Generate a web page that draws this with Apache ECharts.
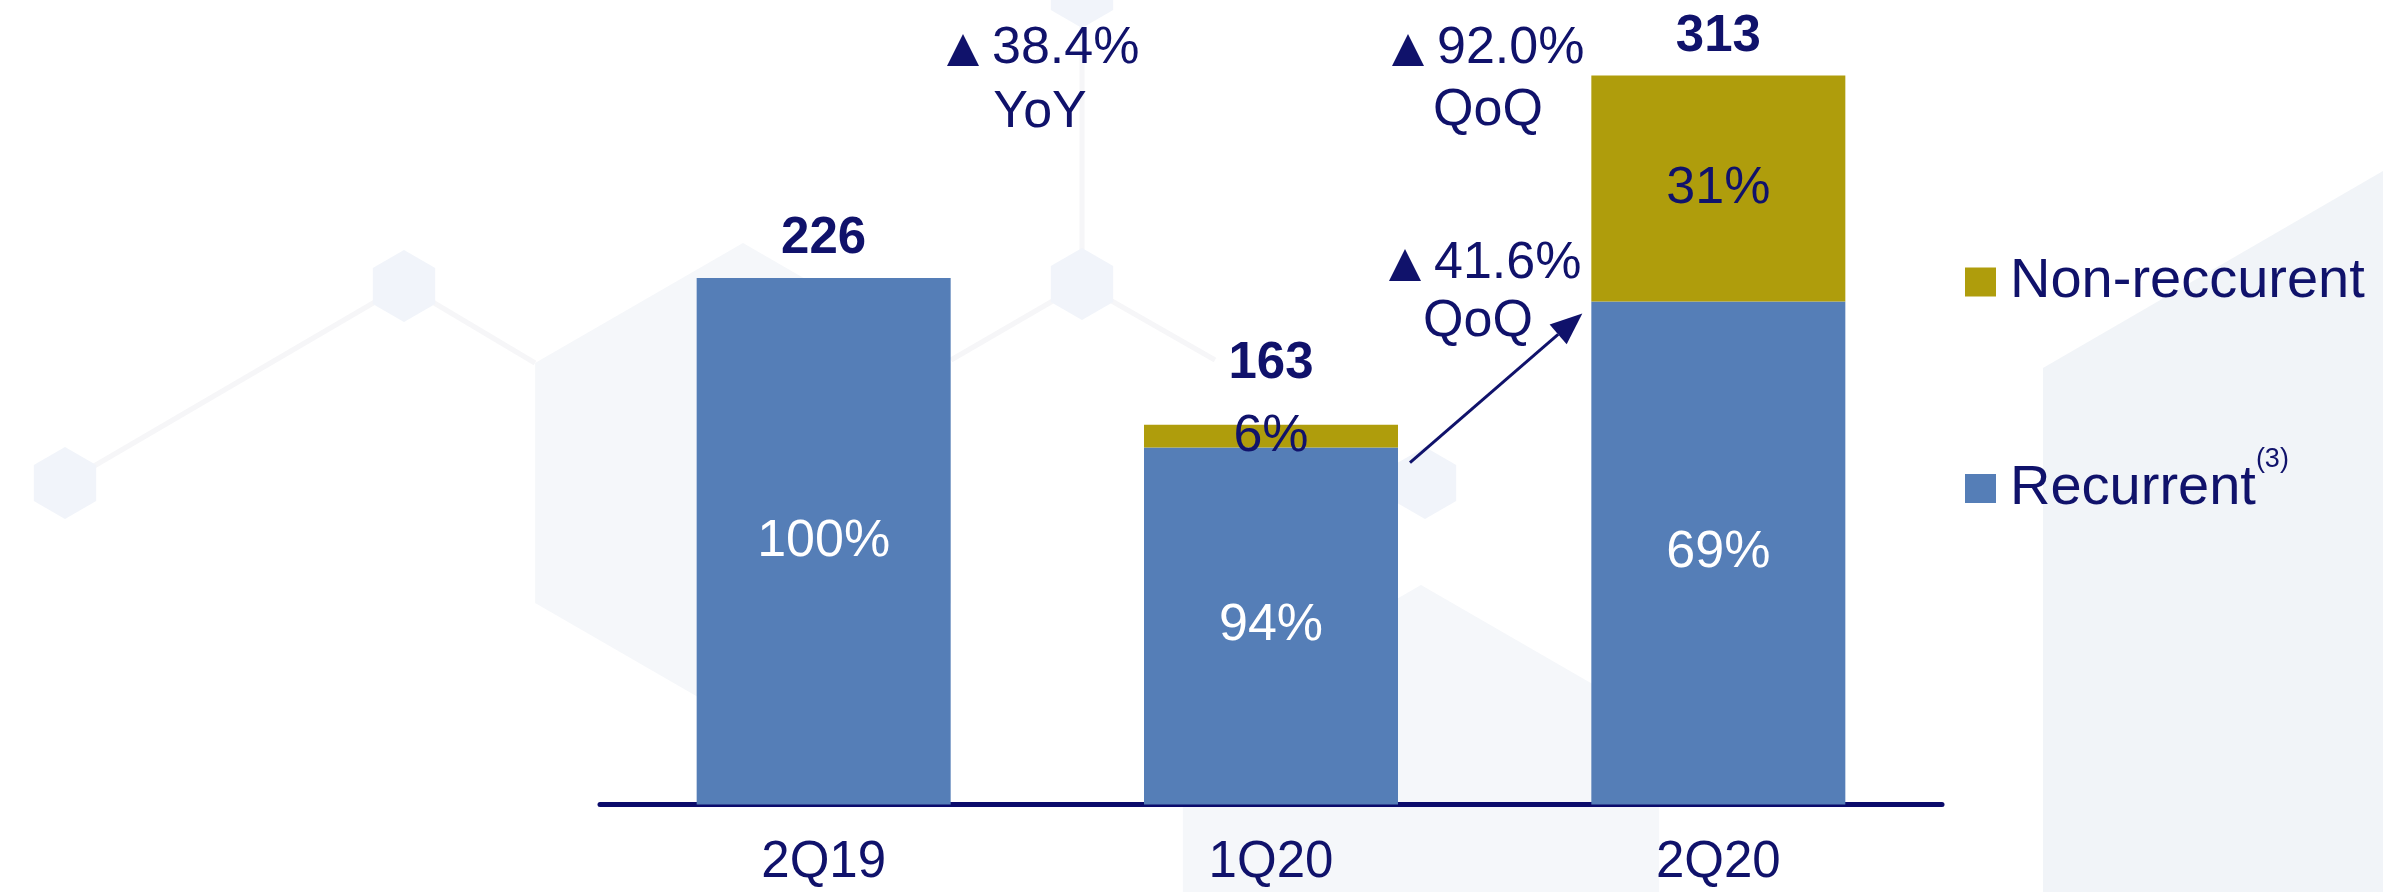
<!DOCTYPE html>
<html>
<head>
<meta charset="utf-8">
<title>Recurrent vs non-recurrent</title>
<script src="https://cdn.jsdelivr.net/npm/echarts@6/dist/echarts.min.js"></script>
<style>
  html, body { margin: 0; padding: 0; background: #ffffff; }
  #chart { width: 2383px; height: 892px; }
</style>
</head>
<body>
<div id="chart"></div>
<script>
// Quarterly totals and the share (%) of each component
const categories = ['2Q19', '1Q20', '2Q20'];
const totals = [226, 163, 313];
const recurrentShare = [100, 94, 69];
const nonRecurrentShare = [0, 6, 31];

// Growth call-outs
const growthValues = ['38.4%', '92.0%', '41.6%'];
const growthBasis = ['YoY', 'QoQ', 'QoQ'];

const NAVY = '#10126b';
const BLUE = '#557eb7';
const OLIVE = '#af9d0c';
const FONT = '"Liberation Sans", Arial, sans-serif';

const recurrentValues = totals.map((t, i) => t * recurrentShare[i] / 100);
const nonRecurrentValues = totals.map((t, i) => t * nonRecurrentShare[i] / 100);

// distance of each total label above its bar
const totalLabelGap = [14, 36, 13];

const chart = echarts.init(document.getElementById('chart'), null, { renderer: 'canvas' });

// faint hexagon decoration in the background
function hexPoints(cx, cy, r) {
  const pts = [];
  for (let k = 0; k < 6; k++) {
    const a = Math.PI / 180 * (60 * k - 90);
    pts.push([cx + r * Math.cos(a), cy + r * Math.sin(a)]);
  }
  return pts;
}
const panelFill = '#f1f4f8';
const hexFill = '#f5f7fa';
const nodeFill = '#f1f4fa';
const linkColor = '#f6f6f8';
const background = [
  { type: 'polygon', z: -5, shape: { points: [[2043, 368], [2383, 171], [2383, 892], [2043, 892]] }, style: { fill: panelFill } },
  { type: 'polygon', z: -5, shape: { points: hexPoints(743, 483, 240) }, style: { fill: hexFill } },
  { type: 'polygon', z: -5, shape: { points: hexPoints(1421, 860, 275) }, style: { fill: hexFill } },
  { type: 'line', z: -4, shape: { x1: 65, y1: 483, x2: 404, y2: 285 }, style: { stroke: linkColor, lineWidth: 5 } },
  { type: 'line', z: -4, shape: { x1: 404, y1: 285, x2: 535, y2: 363 }, style: { stroke: linkColor, lineWidth: 5 } },
  { type: 'line', z: -4, shape: { x1: 1082, y1: 0, x2: 1082, y2: 284 }, style: { stroke: linkColor, lineWidth: 5 } },
  { type: 'line', z: -4, shape: { x1: 1082, y1: 284, x2: 951, y2: 360 }, style: { stroke: linkColor, lineWidth: 5 } },
  { type: 'line', z: -4, shape: { x1: 1082, y1: 284, x2: 1215, y2: 360 }, style: { stroke: linkColor, lineWidth: 5 } },
  { type: 'polygon', z: -3, shape: { points: hexPoints(404, 286, 36) }, style: { fill: nodeFill } },
  { type: 'polygon', z: -3, shape: { points: hexPoints(65, 483, 36) }, style: { fill: nodeFill } },
  { type: 'polygon', z: -3, shape: { points: hexPoints(1082, 284, 36) }, style: { fill: nodeFill } },
  { type: 'polygon', z: -3, shape: { points: hexPoints(1082, -8, 36) }, style: { fill: nodeFill } },
  { type: 'polygon', z: -3, shape: { points: hexPoints(1425, 483, 36) }, style: { fill: nodeFill } }
];

// growth call-outs: up-triangle, value, and basis line below
// [triangle left, value centre y, basis centre x, basis centre y]
const calloutPos = [[947, 49, 1040, 113], [1392, 49, 1488, 111], [1389, 264, 1478, 322]];
const callouts = [];
growthValues.forEach((v, i) => {
  const p = calloutPos[i];
  const tl = p[0], cy = p[1];
  callouts.push({
    type: 'polygon', z: 20,
    shape: { points: [[tl, cy + 17], [tl + 32, cy + 17], [tl + 16, cy - 15]] },
    style: { fill: NAVY }
  });
  callouts.push({
    type: 'text', z: 20, x: tl + 45, y: cy,
    style: { text: v, fill: NAVY, font: '52px ' + FONT, textAlign: 'left', textVerticalAlign: 'middle' }
  });
  callouts.push({
    type: 'text', z: 20, x: p[2], y: p[3],
    style: { text: growthBasis[i], fill: NAVY, font: '52px ' + FONT, textAlign: 'center', textVerticalAlign: 'middle' }
  });
});

const option = {
  backgroundColor: '#ffffff',
  animation: false,
  grid: { left: 600, right: 441, top: 12.5, bottom: 87.5, containLabel: false },
  legend: {
    data: ['Non-reccurent', 'Recurrent'],
    orient: 'vertical',
    left: 1960,
    top: 247,
    icon: 'rect',
    itemWidth: 31,
    itemHeight: 29,
    itemGap: 134,
    selectedMode: false,
    formatter: name => name === 'Recurrent' ? 'Recurrent{sup|(3)}' : name,
    textStyle: {
      color: NAVY, fontSize: 56, fontFamily: FONT, lineHeight: 60, padding: [0, 0, 0, 9],
      rich: { sup: { fontSize: 27, color: NAVY, fontFamily: FONT, padding: [0, 0, 58, 0] } }
    }
  },
  xAxis: {
    type: 'category',
    data: categories,
    axisLine: { show: true, lineStyle: { color: '#0b0b6b', width: 5 } },
    axisTick: { show: false },
    axisLabel: { color: NAVY, fontSize: 51, fontFamily: FONT, margin: 33, lineHeight: 51 }
  },
  yAxis: {
    type: 'value', min: 0, max: 340,
    show: false, splitLine: { show: false }
  },
  graphic: { elements: background.concat(callouts) },
  series: [
    {
      name: 'Recurrent', type: 'bar', stack: 'total', barWidth: 254,
      itemStyle: { color: BLUE },
      label: {
        show: true, position: 'inside', color: '#ffffff', fontSize: 52, fontFamily: FONT,
        formatter: p => recurrentShare[p.dataIndex] + '%'
      },
      emphasis: { disabled: true },
      data: recurrentValues
    },
    {
      name: 'Non-reccurent', type: 'bar', stack: 'total', barWidth: 254,
      itemStyle: { color: OLIVE },
      label: {
        show: true, position: 'inside', color: NAVY, fontSize: 52, fontFamily: FONT,
        formatter: p => nonRecurrentShare[p.dataIndex] > 0 ? nonRecurrentShare[p.dataIndex] + '%' : ''
      },
      emphasis: { disabled: true },
      data: nonRecurrentValues
    },
    {
      name: 'Total', type: 'scatter', symbolSize: 0, silent: true,
      itemStyle: { opacity: 1 },
      label: {
        show: true, position: 'top', color: NAVY, opacity: 1, fontSize: 51, fontWeight: 'bold',
        fontFamily: FONT, lineHeight: 50
      },
      emphasis: { disabled: true },
      data: totals.map((t, i) => ({ value: t, label: { distance: totalLabelGap[i] } })),
      z: 5
    }
  ]
};

chart.setOption(option);

// arrow from the 1Q20 recurrent bar to the 2Q20 recurrent bar
const halfBar = 127;
const from = chart.convertToPixel({ xAxisIndex: 0, yAxisIndex: 0 }, [categories[1], recurrentValues[1]]);
const to = chart.convertToPixel({ xAxisIndex: 0, yAxisIndex: 0 }, [categories[2], recurrentValues[2]]);
const x1 = from[0] + halfBar + 12, y1 = from[1] + 15;
const x2 = to[0] - halfBar - 9, y2 = to[1] + 12;
const ang = Math.atan2(y2 - y1, x2 - x1);
const headLen = 32, headHalf = 13;
const bx = x2 - headLen * Math.cos(ang), by = y2 - headLen * Math.sin(ang);
const nx = -Math.sin(ang), ny = Math.cos(ang);
chart.setOption({
  graphic: {
    elements: background.concat(callouts).concat([
      { type: 'line', z: 20, shape: { x1: x1, y1: y1, x2: bx, y2: by }, style: { stroke: NAVY, lineWidth: 3 } },
      { type: 'polygon', z: 20, shape: { points: [[x2, y2], [bx + nx * headHalf, by + ny * headHalf], [bx - nx * headHalf, by - ny * headHalf]] }, style: { fill: NAVY } }
    ])
  }
});
</script>
</body>
</html>
